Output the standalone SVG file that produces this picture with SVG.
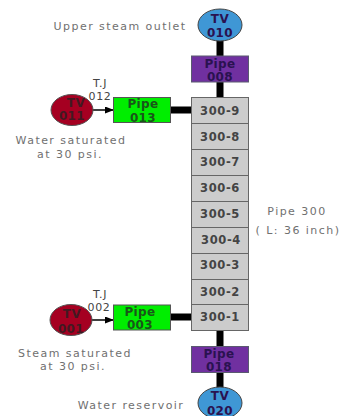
<svg xmlns="http://www.w3.org/2000/svg" width="342" height="416" viewBox="0 0 342 416">
<style>
text{font-family:"DejaVu Sans","Liberation Sans",sans-serif;text-anchor:middle}
.lb{font-size:11px;fill:#707070;letter-spacing:1.45px}
.sv{font-size:11px;fill:#444;letter-spacing:.6px}
.cell{fill:#cccccc;stroke:#666;stroke-width:1}
.c{font-size:11.500px;font-weight:bold;fill:#444;letter-spacing:.6px}
.con{stroke:#000;fill:none}
.pur{fill:#7030a0;stroke:#5a5a70}
.gr{fill:#00ee00;stroke:#555}
.red{fill:#a50021;stroke:#555}
.blu{fill:#3f97d5;stroke:#444}
.dk{font-size:12px;font-weight:bold;fill:#2a1250;letter-spacing:.4px}
.pt{font-size:12px;font-weight:bold;fill:#222;opacity:.75;letter-spacing:.4px}
</style>
<defs><marker id="a" markerWidth="9" markerHeight="7" refX="8" refY="3.500" orient="auto" markerUnits="userSpaceOnUse"><path d="M0 0L9 3.500L0 7z" fill="#000"/></marker></defs>
<g id="connectors">
<path class="con" stroke-width="7" d="M220 40V56M220 81V98M170 110H192M170 317H192M220 330V347M220 372V388"/>
<path class="con" stroke-width="1.500" d="M92 110H113" marker-end="url(#a)"/>
<path class="con" stroke-width="1.500" d="M91 320H113" marker-end="url(#a)"/>
</g>
<g id="TV010"><ellipse class="blu" cx="220" cy="25" rx="22" ry="16"/><text class="dk" x="220" y="23">TV</text><text class="dk" x="220" y="37">010</text></g>
<g id="Pipe008"><rect class="pur" x="191.500" y="56" width="57" height="26"/><text class="dk" x="220" y="68">Pipe</text><text class="dk" x="220" y="81">008</text></g>
<g id="TV011"><ellipse class="red" cx="72" cy="110" rx="21" ry="15.500"/><text class="pt" x="76" y="107">TV</text><text class="pt" x="72" y="120">011</text></g>
<g id="Pipe013"><rect class="gr" x="113.500" y="97.500" width="57" height="25"/><text class="pt" x="143" y="108">Pipe</text><text class="pt" x="143" y="122">013</text></g>
<g id="Pipe300">
<rect class="cell" x="191.500" y="97.500" width="57" height="26"/><text class="c" x="220" y="115">300-9</text>
<rect class="cell" x="191.500" y="123.500" width="57" height="26"/><text class="c" x="220" y="141">300-8</text>
<rect class="cell" x="191.500" y="149.500" width="57" height="26"/><text class="c" x="220" y="166">300-7</text>
<rect class="cell" x="191.500" y="175.500" width="57" height="26"/><text class="c" x="220" y="192">300-6</text>
<rect class="cell" x="191.500" y="201.500" width="57" height="26"/><text class="c" x="220" y="218">300-5</text>
<rect class="cell" x="191.500" y="227.500" width="57" height="26"/><text class="c" x="221" y="244">300-4</text>
<rect class="cell" x="191.500" y="253.500" width="57" height="26"/><text class="c" x="220" y="269">300-3</text>
<rect class="cell" x="191.500" y="279.500" width="57" height="25"/><text class="c" x="220" y="296">300-2</text>
<rect class="cell" x="191.500" y="304.500" width="57" height="26"/><text class="c" x="220" y="321">300-1</text>
</g>
<g id="TV001"><ellipse class="red" cx="71" cy="320" rx="21" ry="15.500"/><text class="pt" x="72" y="318">TV</text><text class="pt" x="71" y="333">001</text></g>
<g id="Pipe003"><rect class="gr" x="113.500" y="305" width="57" height="25"/><text class="pt" x="140" y="316">Pipe</text><text class="pt" x="140" y="329">003</text></g>
<g id="Pipe018"><rect class="pur" x="191.500" y="346.500" width="57" height="26"/><text class="dk" x="219" y="358">Pipe</text><text class="dk" x="219" y="371">018</text></g>
<g id="TV020"><ellipse class="blu" cx="220" cy="403" rx="22" ry="16"/><text class="dk" x="220" y="400">TV</text><text class="dk" x="220" y="414.500">020</text></g>
<g id="labels">
<text class="lb" x="120" y="30">Upper steam outlet</text>
<text class="sv" x="100" y="87">T.J</text><text class="sv" x="100" y="100">012</text>
<text class="lb" x="71" y="144">Water saturated</text><text class="lb" x="70" y="158">at 30 psi.</text>
<text class="sv" x="100" y="298">T.J</text><text class="sv" x="99" y="311">002</text>
<text class="lb" x="75" y="357">Steam saturated</text><text class="lb" x="73" y="370">at 30 psi.</text>
<text class="lb" x="131" y="409">Water reservoir</text>
<text class="lb" x="297" y="215">Pipe 300</text>
<text class="lb" x="298" y="234">( L: 36 inch)</text>
</g>
</svg>
